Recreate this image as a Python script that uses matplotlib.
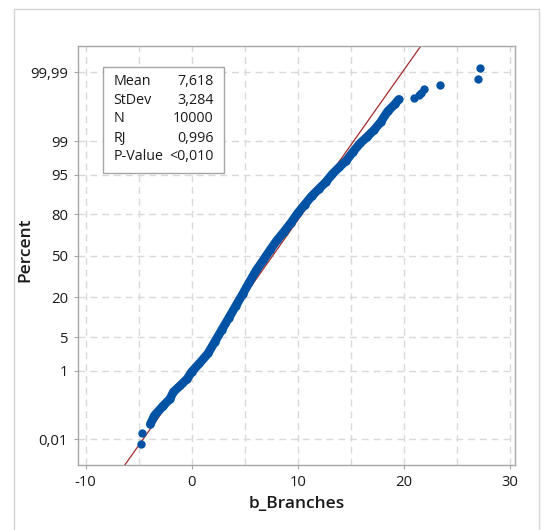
import numpy as np
import matplotlib
matplotlib.use('Agg')
import matplotlib.pyplot as plt
from matplotlib.patches import Rectangle
from statistics import NormalDist

# Probability plot of b_Branches (normal, 95% line from mean/stdev)
# ordered values along the main band and their plotting positions (%)
band_x = [-3.90, -3.52, -2.70, -2.05, -1.73, -1.07, -0.42, 0.00, 0.72, 1.53,
          2.18, 2.83, 3.49, 4.14, 4.79, 5.44, 6.09, 6.74, 7.39, 8.05,
          8.70, 9.35, 10.00, 10.65, 11.30, 11.95, 12.61, 13.26, 13.91, 14.56,
          15.21, 15.86, 16.51, 17.17, 17.82, 18.47, 19.12, 19.51]
band_pct = [0.032, 0.060, 0.118, 0.187, 0.29, 0.43, 0.64, 0.94, 1.46, 2.39,
            4.09, 6.68, 10.38, 15.39, 21.77, 29.81, 38.59, 46.41, 54.78, 62.55,
            68.79, 74.86, 80.78, 85.08, 88.69, 91.15, 93.19, 95.15, 96.41, 97.32,
            98.26, 98.87, 99.20, 99.46, 99.67, 99.83, 99.893, 99.924]

# isolated points in both tails
tail_x = [-4.82, -4.66, 20.95, 21.42, 21.65, 21.90, 23.40, 26.98, 27.18]
tail_pct = [0.007, 0.017, 99.933, 99.943, 99.953, 99.963, 99.973, 99.983, 99.993]

mean, stdev = 7.618, 3.284
stats_names = ['Mean', 'StDev', 'N', 'RJ', 'P-Value']
stats_values = ['7,618', '3,284', '10000', '0,996', '<0,010']

y_ticks = [0.01, 1, 5, 20, 50, 80, 95, 99, 99.99]
y_labels = ['0,01', '1', '5', '20', '50', '80', '95', '99', '99,99']
x_ticks = [-10, 0, 10, 20, 30]
x_grid = [-10, -5, 0, 5, 10, 15, 20, 25, 30]

nd = NormalDist()


def to_z(p):
    p = np.clip(np.asarray(p, dtype=float) / 100.0, 1e-12, 1 - 1e-12)
    return np.vectorize(nd.inv_cdf, otypes=[float])(p)


def from_z(z):
    return 100.0 * np.vectorize(nd.cdf, otypes=[float])(np.asarray(z, dtype=float))


plt.rcParams['font.family'] = ['Open Sans', 'DejaVu Sans']

blue = '#0053a4'
fig = plt.figure(figsize=(5.41, 5.30), dpi=100)
ax = fig.add_axes([0.1436, 0.1217, 0.8089, 0.7910])
ax.set_yscale('function', functions=(to_z, from_z))

# grid
for gx in x_grid:
    ax.axvline(gx, color='#d9d9d9', lw=1.0, ls=(0, (5, 3.5)), zorder=0)
for gy in y_ticks:
    ax.axhline(gy, color='#d9d9d9', lw=1.0, ls=(0, (5, 3.5)), zorder=0)

# fitted line (behind the points)
z_end = np.array([-4.6, 4.6])
ax.plot(mean + stdev * z_end, from_z(z_end), color='#a52a2a', lw=0.9, zorder=1)

# data points
ax.plot(band_x, band_pct, color=blue, lw=6.3, solid_capstyle='round',
        solid_joinstyle='round', zorder=2)
ax.plot(band_x, band_pct, 'o', color=blue, ms=6.0, mec='none', zorder=2)
ax.plot(tail_x, tail_pct, 'o', color=blue, ms=6.0, mec='none', zorder=2)

ax.set_xlim(-10.75, 30.5)
ax.set_ylim(from_z(-4.25), from_z(4.25))
ax.set_xticks(x_ticks)
ax.set_xticklabels([str(t) for t in x_ticks])
ax.set_yticks(y_ticks)
ax.set_yticklabels(y_labels)
ax.minorticks_off()
ax.tick_params(axis='both', length=3.0, width=0.8, color='#a6a6a6',
               labelsize=10.7, labelcolor='#1a1a1a', pad=4)
for sp in ax.spines.values():
    sp.set_color('#a6a6a6')
    sp.set_linewidth(1.0)

ax.set_xlabel('b_Branches', fontsize=12.5, fontweight='semibold', color='#1a1a1a', labelpad=4)
ax.set_ylabel('Percent', fontsize=12.5, fontweight='semibold', color='#1a1a1a')
ax.yaxis.set_label_coords(-0.102, 0.515)

# statistics box
ax.add_patch(Rectangle((0.0571, 0.697), 0.278, 0.253, transform=ax.transAxes,
                       facecolor='white', edgecolor='#a6a6a6', lw=1.0, zorder=5))
row_y = [0.9165, 0.8712, 0.8266, 0.7805, 0.7359]
for name, val, yy in zip(stats_names, stats_values, row_y):
    ax.text(0.0814, yy, name, transform=ax.transAxes, fontsize=10.3,
            color='#1a1a1a', va='center', ha='left', zorder=6)
    ax.text(0.310, yy, val, transform=ax.transAxes, fontsize=10.3,
            color='#1a1a1a', va='center', ha='right', zorder=6)

# outer frame around the graph
fig.add_artist(Rectangle((14 / 541, -0.05), 525 / 541, 1.05 - 9 / 530,
                         transform=fig.transFigure, fill=False,
                         edgecolor='#d4d4d4', lw=1.0))

fig.savefig('out.png', dpi=100)
